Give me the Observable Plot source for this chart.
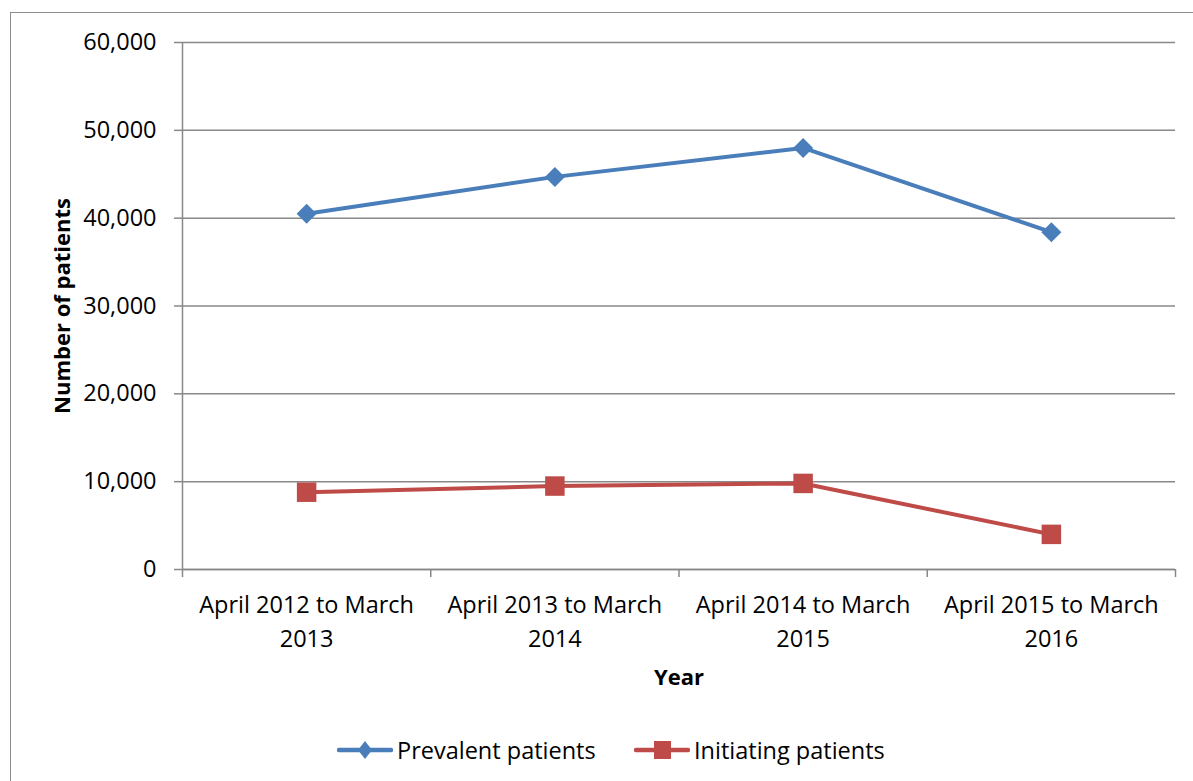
<!DOCTYPE html>
<html>
<head>
<meta charset="utf-8">
<script src="https://cdn.jsdelivr.net/npm/d3@7"></script>
<script src="https://cdn.jsdelivr.net/npm/@observablehq/plot@0.6"></script>
<style>
  html, body { margin: 0; padding: 0; background: #fff; }
  #wrap { position: relative; width: 1193px; height: 781px; overflow: hidden; font-family: "Open Sans", sans-serif; }
  #frame { position: absolute; left: 10px; top: 12px; width: 1200px; height: 780px; border: 1.5px solid #8c8c8c; box-sizing: border-box; pointer-events: none; }
  #chart { position: absolute; left: 0; top: 0; }
  #legend { position: absolute; left: 0; top: 734px; width: 1193px; height: 32px; }
  .item { position: absolute; top: 0; display: flex; align-items: center; height: 32px; font-size: 23.5px; color: #000; white-space: nowrap; }
  .item svg { margin-right: 4px; flex: none; }
</style>
</head>
<body>
<div id="wrap">
  <div id="chart"></div>
  <div id="legend"></div>
  <div id="frame"></div>
</div>
<script>
const categories = ["April 2012 to March 2013", "April 2013 to March 2014", "April 2014 to March 2015", "April 2015 to March 2016"];
const tickLabels = ["April 2012 to March\n2013", "April 2013 to March\n2014", "April 2014 to March\n2015", "April 2015 to March\n2016"];
const prevalent = [40500, 44700, 48000, 38400];
const initiating = [8800, 9500, 9800, 4000];
const yTicks = [0, 10000, 20000, 30000, 40000, 50000, 60000];
const seriesNames = ["Prevalent patients", "Initiating patients"];
const colors = ["#4a7ebb", "#be4b48"];

const rows = [];
categories.forEach((c, i) => {
  rows.push({series: seriesNames[0], i: i + 0.5, value: prevalent[i]});
  rows.push({series: seriesNames[1], i: i + 0.5, value: initiating[i]});
});
const prevRows = rows.filter(d => d.series === seriesNames[0]);
const initRows = rows.filter(d => d.series === seriesNames[1]);
const bounds = d3.range(categories.length + 1);
const centers = categories.map((c, i) => i + 0.5);

const fmt = d3.format(",");
const chart = Plot.plot({
  width: 1193,
  height: 730,
  marginLeft: 182,
  marginRight: 18,
  marginTop: 42,
  marginBottom: 161,
  style: {fontFamily: "Open Sans, sans-serif", fontSize: "23.5px", color: "#000", background: "transparent"},
  x: {type: "linear", domain: [0, categories.length]},
  y: {domain: [0, 60000]},
  marks: [
    Plot.gridY(yTicks, {stroke: "#888888", strokeOpacity: 1, strokeWidth: 1.5}),
    Plot.axisY(yTicks, {tickSize: 8, tickPadding: 18, tickFormat: d => fmt(d), stroke: "#888888", strokeWidth: 1.5, fontSize: 23.5, label: null}),
    Plot.ruleX([0], {stroke: "#888888", strokeWidth: 1.5}),
    Plot.ruleY([0], {stroke: "#888888", strokeWidth: 1.5}),
    Plot.axisX(bounds, {tickSize: 8, tickFormat: () => "", stroke: "#888888", strokeWidth: 1.5, label: null}),
    Plot.axisX(centers, {tickSize: 0, tickPadding: 19, tickFormat: (d) => tickLabels[Math.floor(d)], lineHeight: 1.45, fontSize: 23.5, label: null}),
    Plot.text(["Number of patients"], {frameAnchor: "left", textAnchor: "middle", dx: -120, rotate: -90, fontWeight: "bold", fontSize: 22}),
    Plot.text(["Year"], {frameAnchor: "bottom", dy: 115, fontWeight: "bold", fontSize: 22}),
    Plot.line(prevRows, {x: "i", y: "value", stroke: colors[0], strokeWidth: 4}),
    Plot.line(initRows, {x: "i", y: "value", stroke: colors[1], strokeWidth: 4}),
    Plot.dot(prevRows, {x: "i", y: "value", symbol: "diamond2", r: 9, fill: colors[0], stroke: "none"}),
    Plot.dot(initRows, {x: "i", y: "value", symbol: "square", r: 11, fill: colors[1], stroke: "none"})
  ]
});
document.getElementById("chart").appendChild(chart);

// Legend
const legend = document.getElementById("legend");
const legendX = [337, 634];
const legendSymbols = [
  `<polygon points="28,7 35,16 28,25 21,16" fill="${colors[0]}"/>`,
  `<rect x="20" y="7" width="17" height="18" fill="${colors[1]}"/>`
];
seriesNames.forEach((name, k) => {
  const item = document.createElement("div");
  item.className = "item";
  item.style.left = legendX[k] + "px";
  item.innerHTML = `<svg width="56" height="32"><line x1="2" x2="54" y1="16" y2="16" stroke="${colors[k]}" stroke-width="4.5" stroke-linecap="round"/>${legendSymbols[k]}</svg><span>${name}</span>`;
  legend.appendChild(item);
});
</script>
</body>
</html>
